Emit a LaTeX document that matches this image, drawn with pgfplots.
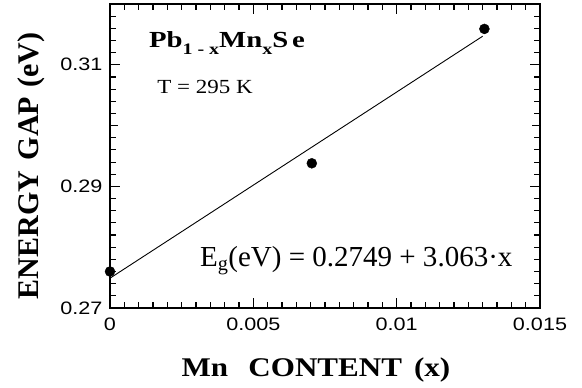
\documentclass[border=0pt]{standalone}
\usepackage{pgfplots}
\pgfplotsset{compat=1.18}
\usepackage{fontspec}
\setmainfont{Liberation Serif}
\newfontfamily\ticksans[FakeStretch=1.2]{Liberation Sans}
\newfontfamily\wideserif[FakeStretch=1.15]{Liberation Serif}
\newfontfamily\pbserif[FakeStretch=1.25]{Liberation Serif}
\begin{document}
\begin{tikzpicture}
\begin{axis}[
  name=ax,
  scale only axis,
  width=430pt, height=304pt,
  xmin=0, xmax=0.015, ymin=0.27, ymax=0.32,
  scaled x ticks=false, scaled y ticks=false,
  axis line style={line width=1.6pt},
  xtick={0,0.005,0.01,0.015},
  xticklabels={0,0.005,0.01,0.015},
  minor x tick num=9,
  ytick={0.27,0.29,0.31},
  yticklabels={0.27,0.29,0.31},
  minor ytick={0.272,0.274,0.276,0.278,0.28,0.282,0.284,0.286,0.288,0.292,0.294,0.296,0.298,0.302,0.304,0.306,0.308,0.312,0.314,0.316,0.318},
  extra y ticks={0.30},
  extra y tick labels={},
  extra y tick style={major tick length=8pt},
  tick align=inside,
  major tick length=10pt,
  minor tick length=6pt,
  every tick/.style={black, line width=1.1pt},
  tick label style={font=\ticksans\fontsize{18}{20}\selectfont},
  /pgf/number format/assume math mode=true,
  xticklabel style={yshift=-6pt},
  yticklabel style={xshift=-4pt},
  xlabel={\textbf{Mn\hspace{0.75em}CONTENT\hspace{0.45em}(x)}},
  ylabel={\textbf{ENERGY\hspace{0.35em}GAP\hspace{0.3em}(eV)}},
  xlabel style={font=\wideserif\fontsize{27}{30}\selectfont, at={(axis description cs:0.479,-0.204)}, anchor=center},
  ylabel style={font=\fontsize{30}{32}\selectfont, at={(axis description cs:-0.184,0.467)}, anchor=center},
]
\addplot[only marks, mark=*, mark size=5pt, black] coordinates {
  (0,0.2760) (0.00704,0.2938) (0.01306,0.3159)
};
\addplot[black, line width=0.9pt] coordinates {
  (0,0.2749) (0.013,0.3147)
};
\node[anchor=center, font=\pbserif\bfseries\fontsize{23}{25}\selectfont] at (axis description cs:0.272,0.872) {Pb\raisebox{-0.28em}{\fontsize{16}{16}\selectfont 1 - x}Mn\raisebox{-0.28em}{\fontsize{16}{16}\selectfont x}S\,e};
\node[anchor=center, font=\wideserif\fontsize{20}{22}\selectfont] at (axis description cs:0.221,0.727) {T = 295 K};
\node[anchor=base west, inner sep=0pt, font=\fontsize{29}{32}\selectfont] at (axis description cs:0.209,0.135) {E\textsubscript{g}(eV) = 0.2749 + 3.063·x};
\end{axis}
\pgfresetboundingbox
\path ([xshift=-110pt,yshift=-80pt]ax.south west) rectangle ([xshift=42pt,yshift=4pt]ax.north east);
\end{tikzpicture}
\end{document}
